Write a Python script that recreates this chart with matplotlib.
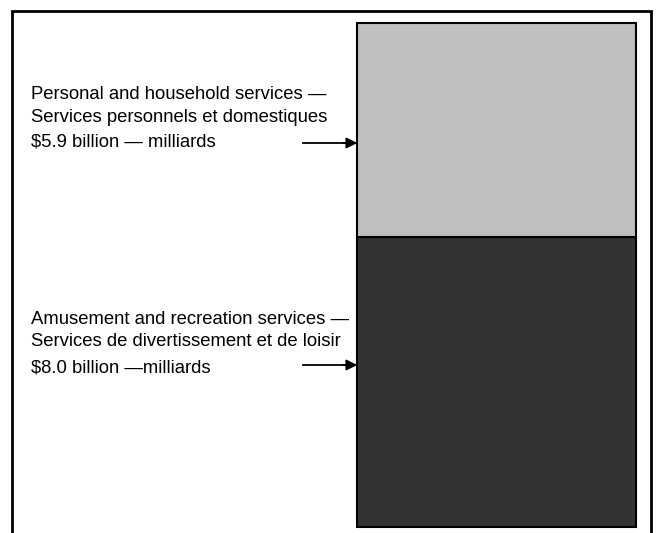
import matplotlib.pyplot as plt
from matplotlib.patches import Rectangle

# ==== DATA ====
segments = ["Amusement and recreation services", "Personal and household services"]
values = [8.0, 5.9]  # $ billion
colors = ["#333333", "#c0c0c0"]
labels = [
    ["Amusement and recreation services \u2014",
     "Services de divertissement et de loisir",
     "$8.0 billion \u2014milliards"],
    ["Personal and household services \u2014",
     "Services personnels et domestiques",
     "$5.9 billion \u2014 milliards"],
]

plt.rcParams["font.family"] = ["Liberation Sans", "DejaVu Sans"]

W, H = 663, 533
fig = plt.figure(figsize=(W / 100, H / 100), dpi=100)


def fx(px):
    return px / W


def fy(py):
    return 1 - py / H


# outer frame (bottom edge runs off the page)
fig.patches.append(Rectangle((fx(12), -0.05), fx(651) - fx(12), fy(11) + 0.05,
                             transform=fig.transFigure, fill=False,
                             edgecolor="black", linewidth=2))

ax = fig.add_axes([fx(357), fy(527), fx(636) - fx(357), fy(23) - fy(527)])
bottom = 0
for v, c in zip(values, colors):
    ax.bar(0.5, v, width=1.0, bottom=bottom, color=c, edgecolor="black",
           linewidth=1.5, clip_on=False)
    bottom += v
ax.set_xlim(0, 1)
ax.set_ylim(0, sum(values))
ax.axis("off")

# label text baselines (pixels) and arrow rows
baselines = [[324, 346, 373], [99, 122, 146]]
arrow_rows = [365, 143]
for lines, bl, ay in zip(labels, baselines, arrow_rows):
    for t, b in zip(lines, bl):
        fig.text(fx(31), fy(b), t, fontsize=13.3, va="baseline", ha="left")
    fig.add_artist(plt.Line2D([fx(303), fx(350)], [fy(ay), fy(ay)],
                              color="black", linewidth=1.3))
    ax.annotate("", xy=(fx(360), fy(ay)), xytext=(fx(340), fy(ay)),
                xycoords="figure fraction", textcoords="figure fraction",
                arrowprops=dict(arrowstyle="-|>", color="black", lw=1.3,
                                mutation_scale=16))

fig.savefig("out.png", dpi=100)
